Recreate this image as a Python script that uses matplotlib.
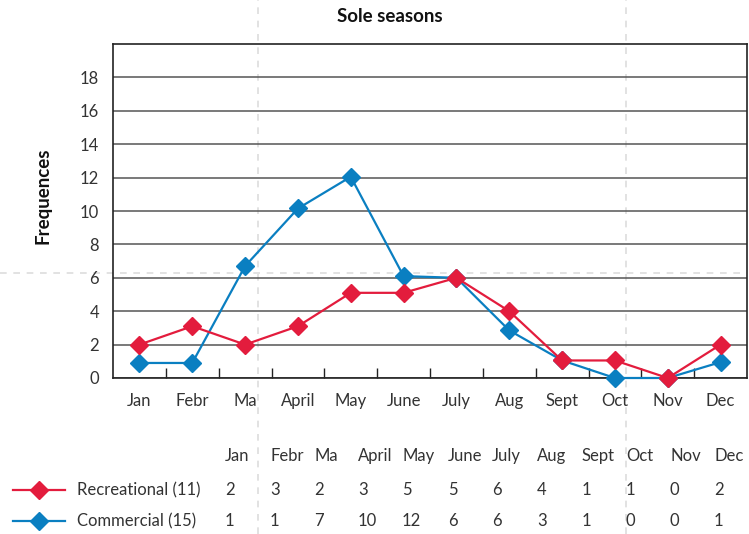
import matplotlib
matplotlib.use("Agg")
import matplotlib.pyplot as plt
from matplotlib.lines import Line2D

months = ["Jan", "Febr", "Ma", "April", "May", "June", "July", "Aug", "Sept", "Oct", "Nov", "Dec"]

# plotted values (as drawn in the chart)
recreational = [2.0, 3.1, 2.0, 3.1, 5.1, 5.1, 6.0, 4.0, 1.05, 1.05, 0.0, 2.0]
commercial = [0.9, 0.9, 6.7, 10.15, 12.05, 6.1, 6.0, 2.85, 1.05, 0.0, 0.0, 0.95]

# values in the table under the chart
rec_table = [2, 3, 2, 3, 5, 5, 6, 4, 1, 1, 0, 2]
com_table = [1, 1, 7, 10, 12, 6, 6, 3, 1, 0, 0, 1]

series_labels = ["Recreational (11)", "Commercial (15)"]
RED = "#e31c3d"
BLUE = "#0a7fc1"
GRID = "#555555"
TEXT = "#333333"

plt.rcParams["font.family"] = ["Lato", "DejaVu Sans"]

fig = plt.figure(figsize=(7.49, 5.34), dpi=100)
W, H = 749, 534


def fx(px):
    return px / W


def fy(py):
    return 1 - py / H


ax = fig.add_axes([fx(113), fy(378), fx(747) - fx(113), fy(44) - fy(378)])
ax.patch.set_alpha(0)

x = list(range(len(months)))
ax.plot(x, commercial, color=BLUE, lw=1.6, marker="D", ms=9.5, zorder=3, clip_on=False)
ax.plot(x, recreational, color=RED, lw=1.6, marker="D", ms=9.5, zorder=4, clip_on=False)

ax.set_xlim(-0.5, 11.5)
ax.set_ylim(0, 20)
ax.set_yticks(range(0, 20, 2))
ax.set_xticks(x)
ax.set_xticklabels(months)
ax.tick_params(axis="x", length=0, pad=11, labelsize=12, labelcolor=TEXT)
ax.tick_params(axis="y", length=0, pad=10, labelsize=12, labelcolor=TEXT)
ax.set_xticks([i + 0.5 for i in range(11)], minor=True)
ax.tick_params(axis="x", which="minor", direction="in", length=7, width=1, color="#222222")

ax.grid(True, axis="y", color=GRID, lw=1.1)
ax.set_axisbelow(True)
for s in ax.spines.values():
    s.set_color("#222222")
    s.set_linewidth(1.2)

fig.text(fx(390), fy(17), "Sole seasons", ha="center", va="center",
         fontsize=13.5, fontweight="bold", color="#111111")
fig.text(fx(43), fy(196), "Frequences", ha="center", va="center", rotation=90,
         fontsize=13.5, fontweight="bold", color="#111111")

# table below the chart
col_x = [225, 270, 314, 358, 402, 448, 492, 537, 582, 626, 670, 714]
for m, cx in zip(months, col_x):
    fig.text(fx(cx), fy(456), m, ha="left", va="center", fontsize=12, color=TEXT)
for vals, label, color, ry in [(rec_table, series_labels[0], RED, 490),
                               (com_table, series_labels[1], BLUE, 521)]:
    fig.add_artist(Line2D([fx(13), fx(65)], [fy(ry), fy(ry)], color=color, lw=1.6,
                          transform=fig.transFigure))
    fig.add_artist(Line2D([fx(39)], [fy(ry)], color=color, marker="D", ms=9.5,
                          transform=fig.transFigure))
    fig.text(fx(77), fy(ry), label, ha="left", va="center", fontsize=12, color=TEXT)
    for v, cx in zip(vals, col_x):
        fig.text(fx(cx), fy(ry), str(v), ha="left", va="center", fontsize=12, color=TEXT)

# light dashed guide lines
guide = dict(color="#dddddd", lw=1.2, ls=(0, (4, 4)), transform=fig.transFigure, zorder=-1)
fig.add_artist(Line2D([fx(258), fx(258)], [0, 1], **guide))
fig.add_artist(Line2D([fx(626), fx(626)], [0, 1], **guide))
fig.add_artist(Line2D([0, fx(747)], [fy(273), fy(273)], **guide))

fig.savefig("out.png", dpi=100)
